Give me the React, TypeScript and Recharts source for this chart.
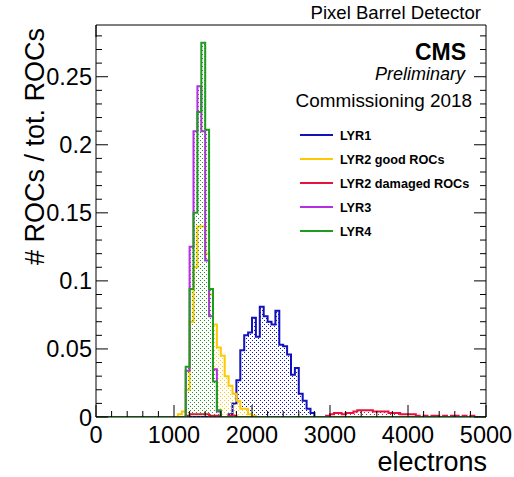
import React from 'react';
import { ComposedChart, Area, XAxis, YAxis } from 'recharts';

// ---------- data ----------
const BIN_WIDTH = 50;
const X_MIN = 0;
const X_MAX = 5000;
const Y_MAX = 0.288;

const lyr1Start = 1700;
const lyr1 = [0.002, 0.01, 0.027, 0.049, 0.06, 0.062, 0.073, 0.059, 0.081, 0.074, 0.07, 0.068, 0.078, 0.053, 0.052, 0.046, 0.031, 0.036, 0.017, 0.012, 0.006, 0.003];

const lyr2GoodStart = 1050;
const lyr2Good = [0.002, 0.004, 0.02, 0.07, 0.11, 0.14, 0.14, 0.12, 0.09, 0.068, 0.051, 0.045, 0.03, 0.023, 0.017, 0.012, 0.006, 0.006, 0.002, 0.001];

const lyr2DamagedStart = 1150;
const lyr2Damaged = [
  0.001, 0.002, 0.002, 0.002, 0.002, 0.002, 0.001, 0.001,
  0.001, 0, 0, 0.001, 0.001, 0, 0, 0, 0,
  0, 0, 0, 0, 0, 0, 0, 0, 0, 0, 0, 0, 0, 0, 0, 0, 0, 0, 0, 0.001,
  0.002, 0.003, 0.003, 0.002, 0.003, 0.003, 0.004, 0.005, 0.005, 0.005, 0.005, 0.004, 0.004, 0.004, 0.004, 0.003, 0.003, 0.003, 0.002, 0.002, 0.002, 0.002,
  0.001, 0, 0.001, 0, 0.001, 0.001, 0, 0.001, 0, 0.001, 0.001, 0, 0.001, 0, 0.001,
];

const lyr3Start = 1150;
const lyr3 = [0.034, 0.125, 0.21, 0.243, 0.21, 0.115, 0.074, 0.035, 0.004];

const lyr4Start = 1150;
const lyr4 = [0.037, 0.094, 0.15, 0.224, 0.275, 0.211, 0.094, 0.026, 0.005];

const xTickLabels = ['0', '1000', '2000', '3000', '4000', '5000'];
const yTickLabels = ['0', '0.05', '0.1', '0.15', '0.2', '0.25'];
const X_MAJOR = 1000;
const X_MINOR = 200;
const Y_MAJOR_HUNDREDTHS = 5;

const series = [
  { key: 'lyr1', name: 'LYR1', color: '#1212bd', start: lyr1Start, values: lyr1 },
  { key: 'lyr2g', name: 'LYR2 good ROCs', color: '#ffc800', start: lyr2GoodStart, values: lyr2Good },
  { key: 'lyr2d', name: 'LYR2 damaged ROCs', color: '#e8103c', start: lyr2DamagedStart, values: lyr2Damaged },
  { key: 'lyr3', name: 'LYR3', color: '#b42ee2', start: lyr3Start, values: lyr3 },
  { key: 'lyr4', name: 'LYR4', color: '#1f9c1f', start: lyr4Start, values: lyr4 },
];

const nBins = (X_MAX - X_MIN) / BIN_WIDTH;
const data: any[] = [];
for (let i = 0; i <= nBins; i++) {
  const x = X_MIN + i * BIN_WIDTH;
  const row: any = { x };
  for (const s of series) {
    const idx = Math.round((x - s.start) / BIN_WIDTH);
    row[s.key] = i < nBins && idx >= 0 && idx < s.values.length ? s.values[idx] : 0;
  }
  data.push(row);
}

const xTicks: number[] = [];
for (let v = X_MIN; v <= X_MAX; v += X_MINOR) xTicks.push(v);
const yTicks: number[] = [];
for (let i = 0; i <= Math.floor(Y_MAX * 100); i++) yTicks.push(i / 100);

// ---------- styling ----------
const FONT = '"Liberation Sans", Arial, Helvetica, sans-serif';
const MAJ = 12;
const MIN = 6;
const TICK_FONT = 23.5;

const XTickBottom = (props: any) => {
  const { x, y, payload } = props;
  const v = payload.value;
  const major = v % X_MAJOR === 0;
  return (
    <g>
      <line x1={x} x2={x} y1={y} y2={y - (major ? MAJ : MIN)} stroke="#000" strokeWidth={1} />
      {major && (
        <text x={x} y={y + 26} textAnchor="middle" fontSize={TICK_FONT} fontFamily={FONT} fill="#000">
          {xTickLabels[v / X_MAJOR]}
        </text>
      )}
    </g>
  );
};

const XTickTop = (props: any) => {
  const { x, y, payload } = props;
  const major = payload.value % X_MAJOR === 0;
  return <line x1={x} x2={x} y1={y} y2={y + (major ? MAJ : MIN)} stroke="#000" strokeWidth={1} />;
};

const YTickLeft = (props: any) => {
  const { x, y, payload } = props;
  const h = Math.round(payload.value * 100);
  const major = h % Y_MAJOR_HUNDREDTHS === 0;
  return (
    <g>
      <line x1={x} x2={x + (major ? MAJ : MIN)} y1={y} y2={y} stroke="#000" strokeWidth={1} />
      {major && (
        <text x={x - 4} y={y + 8.5} textAnchor="end" fontSize={TICK_FONT} fontFamily={FONT} fill="#000">
          {yTickLabels[h / Y_MAJOR_HUNDREDTHS]}
        </text>
      )}
    </g>
  );
};

const YTickRight = (props: any) => {
  const { x, y, payload } = props;
  const major = Math.round(payload.value * 100) % Y_MAJOR_HUNDREDTHS === 0;
  return <line x1={x} x2={x - (major ? MAJ : MIN)} y1={y} y2={y} stroke="#000" strokeWidth={1} />;
};

export default function App() {
  return (
    <div style={{ position: 'absolute', left: 0, top: 0, width: 514, height: 477, background: '#fff' }}>
      <svg width={0} height={0} style={{ position: 'absolute' }}>
        <defs>
          {series.map((s) => (
            <pattern key={s.key} id={'pat-' + s.key} width={4} height={4} patternUnits="userSpaceOnUse">
              <rect x={0} y={0} width={1} height={1} fill={s.color} />
              <rect x={2} y={2} width={1} height={1} fill={s.color} />
            </pattern>
          ))}
        </defs>
      </svg>
      <ComposedChart width={514} height={477} data={data} margin={{ top: 24, right: 27, bottom: 30, left: 0 }}>
        <XAxis
          xAxisId="b"
          dataKey="x"
          type="number"
          domain={[X_MIN, X_MAX]}
          ticks={xTicks}
          interval={0}
          tickSize={0}
          tickMargin={0}
          tick={<XTickBottom />}
          axisLine={{ stroke: '#000', strokeWidth: 1 }}
          height={30}
          allowDataOverflow
        />
        <XAxis
          xAxisId="t"
          orientation="top"
          type="number"
          domain={[X_MIN, X_MAX]}
          ticks={xTicks}
          interval={0}
          tickSize={0}
          tickMargin={0}
          tick={<XTickTop />}
          axisLine={{ stroke: '#000', strokeWidth: 1 }}
          height={1}
          allowDataOverflow
        />
        <YAxis
          yAxisId="l"
          type="number"
          domain={[0, Y_MAX]}
          ticks={yTicks}
          interval={0}
          tickSize={0}
          tickMargin={0}
          tick={<YTickLeft />}
          axisLine={{ stroke: '#000', strokeWidth: 1 }}
          width={96}
          allowDataOverflow
        />
        <YAxis
          yAxisId="r"
          orientation="right"
          type="number"
          domain={[0, Y_MAX]}
          ticks={yTicks}
          interval={0}
          tickSize={0}
          tickMargin={0}
          tick={<YTickRight />}
          axisLine={{ stroke: '#000', strokeWidth: 1 }}
          width={1}
          allowDataOverflow
        />
        {series.map((s) => (
          <Area
            key={s.key}
            xAxisId="b"
            yAxisId="l"
            type="stepAfter"
            dataKey={s.key}
            stroke={s.color}
            strokeWidth={2}
            fill={'url(#pat-' + s.key + ')'}
            fillOpacity={1}
            dot={false}
            activeDot={false}
            isAnimationActive={false}
          />
        ))}
      </ComposedChart>
      <svg width={514} height={477} style={{ position: 'absolute', left: 0, top: 0, pointerEvents: 'none' }}>
        <g fontFamily={FONT} fill="#000">
          <text x={481} y={19} textAnchor="end" fontSize={18.6}>Pixel Barrel Detector</text>
          <text x={466} y={60} textAnchor="end" fontSize={23} fontWeight="bold">CMS</text>
          <text x={465} y={80} textAnchor="end" fontSize={18} fontStyle="italic">Preliminary</text>
          <text x={472} y={107} textAnchor="end" fontSize={18.9}>Commissioning 2018</text>
          {series.map((s, i) => (
            <g key={s.key}>
              <line x1={300} x2={333} y1={135 + i * 24} y2={135 + i * 24} stroke={s.color} strokeWidth={2} />
              <text x={340} y={139.5 + i * 24} fontSize={12.7} fontWeight="bold">{s.name}</text>
            </g>
          ))}
          <text x={487} y={471} textAnchor="end" fontSize={27}>electrons</text>
          <text transform="translate(44,28) rotate(-90)" textAnchor="end" fontSize={27}># ROCs / tot. ROCs</text>
        </g>
      </svg>
    </div>
  );
}
